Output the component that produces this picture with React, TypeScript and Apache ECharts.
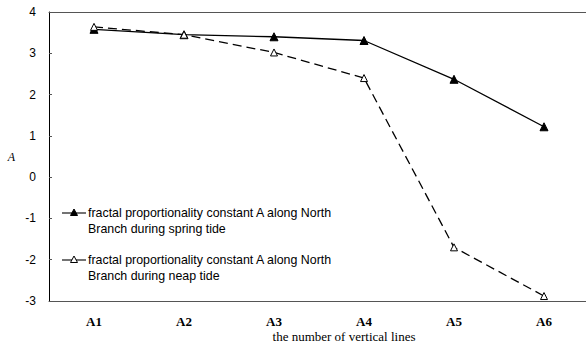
import React, { useEffect, useRef } from "react";
import * as echarts from "echarts";

const categories = ["A1", "A2", "A3", "A4", "A5", "A6"];
const springTide = [3.58, 3.45, 3.4, 3.31, 2.37, 1.22];
const neapTide = [3.64, 3.45, 3.02, 2.4, -1.7, -2.88];
const yTicks = { min: -3, max: 4, interval: 1 };
const legendLines = [
  ["fractal proportionality constant A along North", "Branch during spring tide"],
  ["fractal proportionality constant A along North", "Branch during neap tide"],
];

export default function App() {
  const ref = useRef<HTMLDivElement>(null);
  useEffect(() => {
    if (!ref.current) return;
    const chart = echarts.init(ref.current, null, { renderer: "svg" });
    const sans = "'Liberation Sans', Arial, sans-serif";
    const serif = "'Liberation Serif', 'Times New Roman', serif";
    const legendItem = (y: number, filled: boolean, lines: string[]) => [
      { type: "line", shape: { x1: 62, y1: y, x2: 86, y2: y }, style: { stroke: "#000", lineWidth: 1.1 } },
      {
        type: "polygon",
        shape: { points: [[74, y - 4], [70.5, y + 2.5], [77.5, y + 2.5]] },
        style: { fill: filled ? "#000" : "#fff", stroke: "#000", lineWidth: 1 },
      },
      {
        type: "text",
        x: 88,
        y: y,
        style: { text: lines[0], font: `12.4px ${sans}`, fill: "#000", textVerticalAlign: "middle" },
      },
      {
        type: "text",
        x: 88,
        y: y + 16,
        style: { text: lines[1], font: `12.4px ${sans}`, fill: "#000", textVerticalAlign: "middle" },
      },
    ];
    chart.setOption({
      animation: false,
      grid: { left: 49, right: 1, top: 12, bottom: 46 },
      xAxis: [
        {
          type: "category",
          data: categories,
          boundaryGap: true,
          axisLine: { onZero: false, lineStyle: { color: "#555", width: 1 } },
          axisTick: { show: false },
          axisLabel: { margin: 14, color: "#000", fontFamily: serif, fontWeight: "bold", fontSize: 13 },
        },
        {
          type: "category",
          position: "top",
          data: categories,
          axisLine: { show: true, onZero: false, lineStyle: { color: "#555", width: 1 } },
          axisTick: { show: false },
          axisLabel: { show: false },
        },
      ],
      yAxis: {
        type: "value",
        min: yTicks.min,
        max: yTicks.max,
        interval: yTicks.interval,
        name: "A",
        nameLocation: "middle",
        nameRotate: 0,
        nameGap: 34,
        nameTextStyle: { fontFamily: serif, fontStyle: "italic", fontSize: 12, color: "#000" },
        axisLine: { show: true, onZero: false, lineStyle: { color: "#000", width: 1 } },
        axisTick: { show: true, inside: true, length: 3, lineStyle: { color: "#555" } },
        splitLine: { show: false },
        axisLabel: { margin: 13, color: "#000", fontFamily: sans, fontSize: 12 },
      },
      series: [
        {
          type: "line",
          data: springTide,
          symbol: "triangle",
          symbolSize: 8,
          itemStyle: { color: "#000", borderColor: "#000" },
          lineStyle: { color: "#000", width: 1.3 },
        },
        {
          type: "line",
          data: neapTide,
          symbol: "triangle",
          symbolSize: 7,
          itemStyle: { color: "#fff", borderColor: "#000", borderWidth: 1 },
          lineStyle: { color: "#000", width: 1.3, type: [9, 5] },
        },
      ],
      graphic: [
        ...legendItem(213, true, legendLines[0]),
        ...legendItem(260, false, legendLines[1]),
        {
          type: "text",
          x: 344,
          y: 336,
          style: {
            text: "the number of vertical lines",
            font: `13px ${serif}`,
            fill: "#000",
            textAlign: "center",
            textVerticalAlign: "middle",
          },
        },
      ],
    });
    return () => chart.dispose();
  }, []);
  return (
    <div style={{ position: "absolute", left: 0, top: 0, width: 586, height: 347, overflow: "hidden", background: "#fff" }}>
      <div ref={ref} style={{ width: 590, height: 347 }} />
    </div>
  );
}
